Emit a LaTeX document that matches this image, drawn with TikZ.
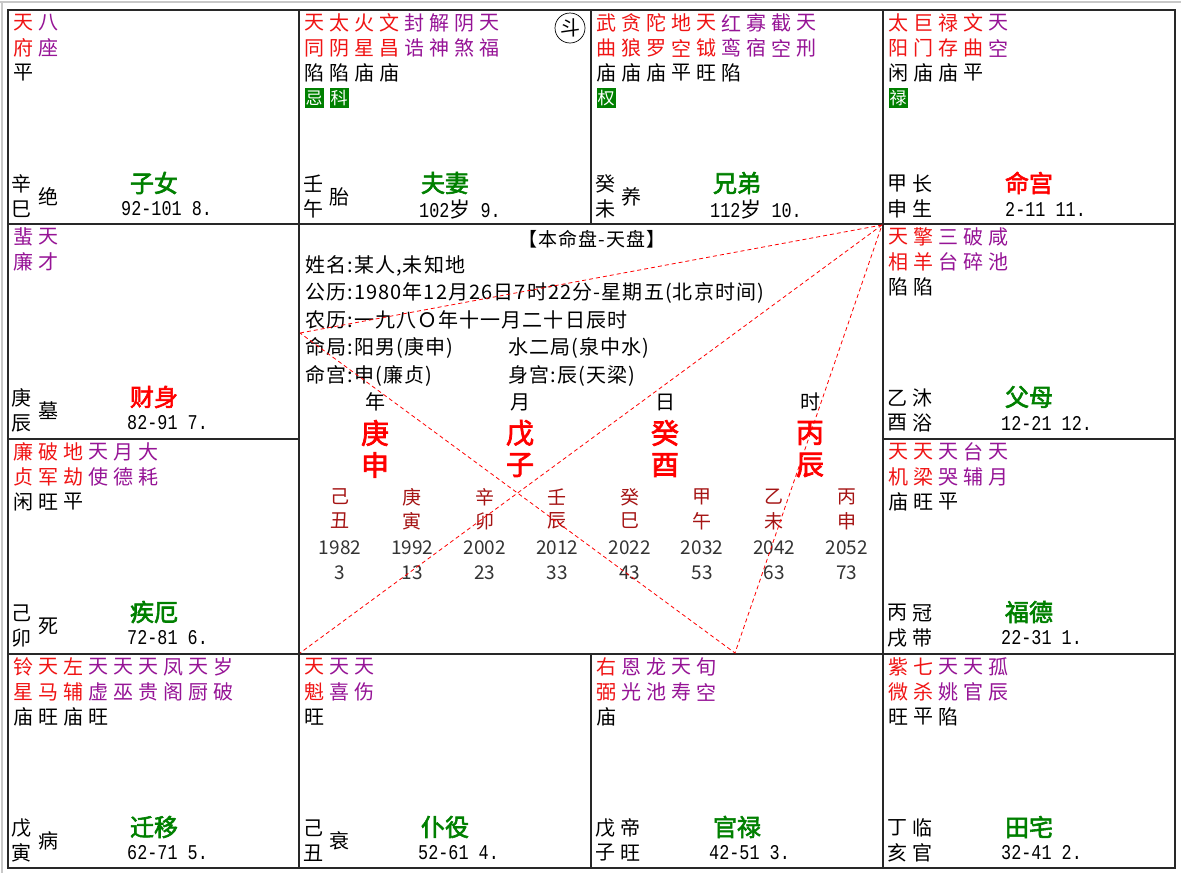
\documentclass[tikz,border=0pt]{standalone}
\usepackage{fontspec}
\setmainfont{Noto Sans CJK SC}
\newfontfamily\cjk{Noto Sans CJK SC}
\newfontfamily\cjkbold[FakeBold=2.5]{Noto Sans CJK SC}
\newfontfamily\infofont[LetterSpace=5.5]{Noto Sans CJK SC}
\newfontfamily\numfont[FakeStretch=0.8]{Liberation Mono}
\usetikzlibrary{positioning}

\definecolor{zhuxing}{RGB}{240,20,20}
\definecolor{zaxing}{RGB}{150,20,150}
\definecolor{huabg}{RGB}{0,128,0}
\definecolor{gongname}{RGB}{0,128,0}
\definecolor{dayun}{RGB}{165,20,20}
\definecolor{gridline}{RGB}{40,40,40}
\definecolor{chrome}{RGB}{200,200,200}

% stars: top and bottom character, one column per star
\newcommand{\stars}[1]{%
  \foreach \t/\b/\c [count=\i from 0] in {#1}{
    \node[xing,text=\c] (t\i) at (15+25*\i,13) {\t};
    \node[xing,text=\c] (b\i) at (15+25*\i,38) {\b};
  }}
\newcommand{\bright}[1]{%
  \foreach \m [count=\i from 0] in {#1}
    \node[xing] (m\i) at (15+25*\i,63) {\m};}
\newcommand{\hua}[1]{%
  \foreach \m [count=\i from 0] in {#1}
    \node[huabox] (h\i) at (15+25*\i,88) {\m};}
\newcommand{\gzone}[3]{%
  \node[xing] (gan) at (14,174) {#1};
  \node[xing] (zhi) at (14,199) {#2};
  \node[xing] (cs) at (40,187) {#3};}
\newcommand{\gztwo}[4]{%
  \node[xing] (gan) at (14,174) {#1};
  \node[xing] (zhi) at (14,199) {#2};
  \node[xing] (csa) at (39,174) {#3};
  \node[xing] (csb) at (39,199) {#4};}
\newcommand{\gong}[4]{% name, colour, x of range, range
  \node[gongbox,text=#2] (name) at (146,173) {#1};
  \node[yunxian] (yx) at (#3,199) {#4};}

\begin{document}
\begin{tikzpicture}[x=1pt,y=-1pt,
  xing/.style={inner sep=0pt,text=black,font=\fontsize{20}{20}\selectfont},
  huabox/.style={fill=huabg,text=white,inner sep=0pt,minimum width=19pt,minimum height=20pt,font=\fontsize{17}{17}\selectfont},
  gongbox/.style={inner sep=0pt,font={\cjkbold\fontsize{24}{24}\selectfont}},
  yunxian/.style={anchor=west,inner sep=0pt,font={\numfont\fontsize{21}{21}\selectfont}},
  info/.style={anchor=west,inner sep=0pt,font={\infofont\fontsize{20}{20}\selectfont}},
  sizhu/.style={inner sep=0pt,text=red,font={\cjkbold\fontsize{28}{28}\selectfont}},
  dayunzi/.style={inner sep=0pt,text=dayun,font=\fontsize{19}{19}\selectfont},
  nianfen/.style={inner sep=0pt,text=black!80,font=\fontsize{19}{19}\selectfont},
  grid/.style={draw=gridline,line width=1.3pt},
  sanfang/.style={red,dash pattern=on 4pt off 3pt,line width=0.8pt}]

  \fill[white] (0,0) rectangle (1181,873);
  \useasboundingbox (0,0) rectangle (1181,873);
  \draw[chrome,line width=1.5pt] (0,2) -- (1181,2) (2,2) -- (2,873);

  % grid of the twelve palaces
  \draw[grid] (8,10) rectangle (1175,868);
  \draw[grid] (8,224) -- (1175,224) (8,654) -- (1175,654)
    (8,439) -- (299,439) (883,439) -- (1175,439)
    (299,10) -- (299,868) (883,10) -- (883,868)
    (591,10) -- (591,224) (591,654) -- (591,868);

  % top row
  \begin{scope}[shift={(8,10)},name prefix=zn-]
    \stars{天/府/zhuxing, 八/座/zaxing}
    \bright{平}
    \gzone{辛}{巳}{绝}
    \gong{子女}{gongname}{113}{92-101 8.}
  \end{scope}
  \begin{scope}[shift={(299,10)},name prefix=fq-]
    \stars{天/同/zhuxing, 太/阴/zhuxing, 火/星/zhuxing, 文/昌/zhuxing, 封/诰/zaxing, 解/神/zaxing, 阴/煞/zaxing, 天/福/zaxing}
    \bright{陷,陷,庙,庙}
    \hua{忌,科}
    \gzone{壬}{午}{胎}
    \gong{夫妻}{gongname}{120}{102{\cjk 岁} 9.}
    \node[draw,circle,line width=0.7pt,minimum size=30pt,inner sep=0pt,font=\fontsize{20}{20}\selectfont] (dou) at (271,18) {斗};
  \end{scope}
  \begin{scope}[shift={(591,10)},name prefix=xd-]
    \stars{武/曲/zhuxing, 贪/狼/zhuxing, 陀/罗/zhuxing, 地/空/zhuxing, 天/钺/zhuxing, 红/鸾/zaxing, 寡/宿/zaxing, 截/空/zaxing, 天/刑/zaxing}
    \bright{庙,庙,庙,平,旺,陷}
    \hua{权}
    \gzone{癸}{未}{养}
    \gong{兄弟}{gongname}{119}{112{\cjk 岁} 10.}
  \end{scope}
  \begin{scope}[shift={(883,10)},name prefix=mg-]
    \stars{太/阳/zhuxing, 巨/门/zhuxing, 禄/存/zhuxing, 文/曲/zhuxing, 天/空/zaxing}
    \bright{闲,庙,庙,平}
    \hua{禄}
    \gztwo{甲}{申}{长}{生}
    \gong{命宫}{red}{122}{2-11 11.}
  \end{scope}

  % left and right columns
  \begin{scope}[shift={(8,224)},name prefix=cb-]
    \stars{蜚/廉/zaxing, 天/才/zaxing}
    \gzone{庚}{辰}{墓}
    \gong{财身}{red}{119}{82-91 7.}
  \end{scope}
  \begin{scope}[shift={(883,224)},name prefix=fm-]
    \stars{天/相/zhuxing, 擎/羊/zhuxing, 三/台/zaxing, 破/碎/zaxing, 咸/池/zaxing}
    \bright{陷,陷}
    \gztwo{乙}{酉}{沐}{浴}
    \gong{父母}{gongname}{118}{12-21 12.}
  \end{scope}
  \begin{scope}[shift={(8,439)},name prefix=je-]
    \stars{廉/贞/zhuxing, 破/军/zhuxing, 地/劫/zhuxing, 天/使/zaxing, 月/德/zaxing, 大/耗/zaxing}
    \bright{闲,旺,平}
    \gzone{己}{卯}{死}
    \gong{疾厄}{gongname}{119}{72-81 6.}
  \end{scope}
  \begin{scope}[shift={(883,439)},name prefix=fd-]
    \stars{天/机/zhuxing, 天/梁/zhuxing, 天/哭/zaxing, 台/辅/zaxing, 天/月/zaxing}
    \bright{庙,旺,平}
    \gztwo{丙}{戌}{冠}{带}
    \gong{福德}{gongname}{118}{22-31 1.}
  \end{scope}

  % bottom row
  \begin{scope}[shift={(8,654)},name prefix=qy-]
    \stars{铃/星/zhuxing, 天/马/zhuxing, 左/辅/zhuxing, 天/虚/zaxing, 天/巫/zaxing, 天/贵/zaxing, 凤/阁/zaxing, 天/厨/zaxing, 岁/破/zaxing}
    \bright{庙,旺,庙,旺}
    \gzone{戊}{寅}{病}
    \gong{迁移}{gongname}{119}{62-71 5.}
  \end{scope}
  \begin{scope}[shift={(299,654)},name prefix=py-]
    \stars{天/魁/zhuxing, 天/喜/zaxing, 天/伤/zaxing}
    \bright{旺}
    \gzone{己}{丑}{衰}
    \gong{仆役}{gongname}{119}{52-61 4.}
  \end{scope}
  \begin{scope}[shift={(591,654)},name prefix=gl-]
    \stars{右/弼/zhuxing, 恩/光/zaxing, 龙/池/zaxing, 天/寿/zaxing, 旬/空/zaxing}
    \bright{庙}
    \gztwo{戊}{子}{帝}{旺}
    \gong{官禄}{gongname}{118}{42-51 3.}
  \end{scope}
  \begin{scope}[shift={(883,654)},name prefix=tz-]
    \stars{紫/微/zhuxing, 七/杀/zhuxing, 天/姚/zaxing, 天/官/zaxing, 孤/辰/zaxing}
    \bright{旺,平,陷}
    \gztwo{丁}{亥}{临}{官}
    \gong{田宅}{gongname}{118}{32-41 2.}
  \end{scope}

  % centre: chart info
  \node[inner sep=0pt,font={\infofont\fontsize{19}{19}\selectfont}] (title) at (592,239) {【本命盘-天盘】};
  \node[info] (xm) at (305,266) {姓名:某人,未知地};
  \node[info] (gl) at (305,293) {公历:1980年12月26日7时22分-星期五(北京时间)};
  \node[info] (nl) at (305,320) {农历:一九八Ｏ年十一月二十日辰时};
  \node[info] (mj) at (305,348) {命局:阳男(庚申)};
  \node[info] (wx) at (508,348) {水二局(泉中水)};
  \node[info] (mgz) at (305,376) {命宫:申(廉贞)};
  \node[info] (sg) at (508,376) {身宫:辰(天梁)};

  % four pillars
  \foreach \lab/\g/\z [count=\i from 0] in {年/庚/申, 月/戊/子, 日/癸/酉, 时/丙/辰}{
    \node[xing] (zl\i) at (375+145*\i,402) {\lab};
    \node[sizhu] (zg\i) at (375+145*\i,433) {\g};
    \node[sizhu] (zz\i) at (375+145*\i,465) {\z};
  }

  % decades
  \foreach \g/\z/\yr/\age [count=\i from 0] in {己/丑/1982/3, 庚/寅/1992/13, 辛/卯/2002/23, 壬/辰/2012/33, 癸/巳/2022/43, 甲/午/2032/53, 乙/未/2042/63, 丙/申/2052/73}{
    \node[dayunzi] (dg\i) at (340+72.4*\i,497) {\g};
    \node[dayunzi] (dz\i) at (340+72.4*\i,521) {\z};
    \node[nianfen] (dy\i) at (340+72.4*\i,548) {\yr};
    \node[nianfen] (da\i) at (340+72.4*\i,573) {\age};
  }

  % san fang si zheng
  \coordinate (ming) at (882,225);
  \coordinate (cai) at (300,333);
  \coordinate (guan) at (735,653);
  \coordinate (qian) at (300,653);
  \draw[sanfang] (cai) -- (ming) -- (guan) -- (cai) (ming) -- (qian);
\end{tikzpicture}
\end{document}
